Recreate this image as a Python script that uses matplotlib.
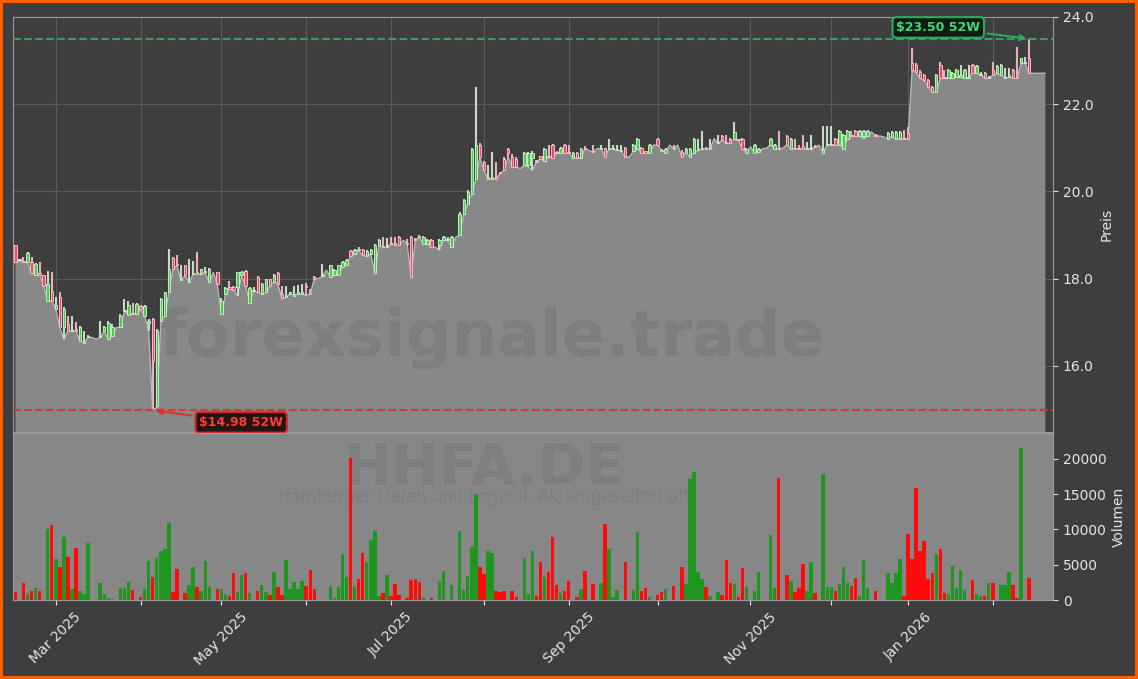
import numpy as np
import pandas as pd
import matplotlib
matplotlib.use("Agg")
import matplotlib.pyplot as plt
from matplotlib.ticker import FixedLocator, FormatStrFormatter

ticker = "HHFA.DE"
company = "Hamburger Hafen und Logistik Aktiengesellschaft"
site = "forexsignale.trade"

# Xetra trading days, Feb 2025 - Feb 2026
holidays = ["2025-04-18", "2025-04-21", "2025-05-01", "2025-12-24",
            "2025-12-25", "2025-12-26", "2025-12-31", "2026-01-01"]
dates = pd.bdate_range("2025-02-17", "2026-02-19")
dates = dates[~dates.isin(pd.to_datetime(holidays))]

open_ = [
    18.76, 18.42, 18.40, 18.37, 18.37, 18.09, 18.12, 18.09, 17.49, 17.72,
    17.30, 17.57, 16.88, 16.96, 16.80, 16.85, 16.57, 16.53, 16.65, 16.65,
    16.61, 16.65, 16.80, 16.61, 16.69, 16.88, 16.88, 17.26, 17.17, 17.22,
    17.18, 17.38, 17.15, 16.98, 17.07, 15.08, 17.03, 17.15, 17.68, 18.47,
    18.33, 17.97, 18.30, 17.91, 18.10, 18.14, 18.10, 18.14, 17.91, 18.14,
    18.14, 17.18, 17.64, 17.80, 17.80, 17.80, 18.07, 18.18, 17.45, 17.72,
    18.03, 17.64, 17.68, 17.99, 17.92, 18.12, 17.65, 17.57, 17.65, 17.61,
    17.65, 17.65, 17.84, 17.70, 18.03, 18.00, 18.05, 18.19, 18.03, 18.09,
    18.07, 18.26, 18.32, 18.63, 18.57, 18.68, 18.65, 18.51, 18.57, 18.12,
    18.76, 18.75, 18.72, 18.82, 18.82, 18.95, 18.88, 18.82, 18.95, 18.90,
    18.97, 18.80, 18.80, 18.89, 18.72, 18.76, 18.88, 18.88, 18.72, 18.95,
    18.99, 19.49, 19.72, 19.95, 20.29, 21.07, 20.68, 20.29, 20.29, 20.33,
    20.43, 20.75, 20.98, 20.79, 20.75, 20.52, 20.60, 20.60, 20.77, 20.70,
    20.80, 20.69, 20.82, 21.07, 20.90, 20.89, 21.07, 20.90, 20.77, 20.89,
    20.77, 21.00, 20.94, 20.92, 20.98, 20.98, 20.99, 20.98, 20.96, 20.94,
    20.92, 20.99, 20.79, 20.92, 20.98, 20.99, 20.91, 20.89, 21.06, 21.20,
    20.95, 20.89, 21.06, 21.00, 21.06, 20.90, 20.89, 20.79, 20.89, 20.94,
    20.98, 21.00, 20.98, 21.21, 21.10, 21.27, 21.12, 21.20, 21.20, 21.19,
    21.20, 20.89, 21.02, 20.89, 20.90, 20.98, 20.99, 21.07, 20.98, 21.00,
    20.99, 21.27, 20.98, 21.00, 21.00, 21.05, 20.98, 20.98, 21.04, 21.06,
    20.89, 21.07, 21.07, 21.20, 21.07, 20.98, 21.21, 21.29, 21.38, 21.27,
    21.27, 21.27, 21.36, 21.30, 21.27, 21.25, 21.21, 21.25, 21.21, 21.21,
    21.23, 21.34, 22.94, 22.90, 22.74, 22.67, 22.55, 22.40, 22.28, 22.90,
    22.63, 22.59, 22.59, 22.63, 22.63, 22.59, 22.60, 22.90, 22.71, 22.67,
    22.72, 22.59, 22.78, 22.71, 22.67, 22.59, 22.63, 22.78, 22.61, 22.94,
    22.94, 23.05, 22.71, 22.71, 22.71, 22.71,
]
high = [
    18.78, 18.45, 18.49, 18.60, 18.49, 18.36, 18.37, 18.09, 18.18, 18.14,
    17.57, 17.68, 17.35, 17.15, 17.15, 17.00, 16.92, 16.80, 16.70, 16.65,
    16.61, 17.03, 16.92, 17.03, 16.96, 16.88, 17.18, 17.53, 17.49, 17.45,
    17.43, 17.40, 17.40, 17.07, 17.10, 16.85, 17.55, 17.70, 18.68, 18.50,
    18.55, 18.30, 18.30, 18.45, 18.41, 18.60, 18.22, 18.26, 18.24, 18.14,
    18.16, 17.55, 17.80, 17.95, 17.82, 18.16, 18.18, 18.20, 17.80, 17.80,
    18.05, 17.90, 18.00, 18.00, 18.10, 18.14, 17.84, 17.84, 17.70, 17.84,
    17.86, 17.88, 17.89, 17.75, 18.05, 18.00, 18.34, 18.19, 18.32, 18.22,
    18.32, 18.40, 18.45, 18.66, 18.67, 18.72, 18.68, 18.65, 18.67, 18.80,
    18.91, 18.95, 18.94, 18.95, 18.95, 18.97, 18.88, 18.91, 18.97, 18.92,
    18.99, 18.97, 18.90, 18.91, 18.72, 18.91, 18.97, 18.95, 18.97, 18.95,
    19.52, 19.83, 20.02, 21.00, 22.40, 21.10, 20.70, 20.60, 20.90, 20.68,
    20.45, 20.78, 21.00, 20.85, 20.78, 20.52, 20.90, 20.90, 20.92, 20.72,
    20.82, 21.00, 21.06, 21.09, 20.92, 21.01, 21.09, 21.06, 20.91, 20.91,
    21.00, 21.05, 20.94, 21.06, 20.98, 21.06, 21.00, 21.20, 21.07, 21.06,
    21.07, 21.01, 20.79, 21.09, 21.22, 21.01, 20.93, 21.09, 21.06, 21.22,
    20.97, 21.00, 21.06, 21.06, 21.06, 20.95, 21.00, 21.00, 21.22, 21.21,
    21.38, 21.02, 21.21, 21.21, 21.29, 21.29, 21.29, 21.22, 21.58, 21.21,
    21.22, 21.00, 21.02, 21.09, 21.00, 20.98, 20.99, 21.22, 21.09, 21.38,
    20.99, 21.29, 21.22, 21.21, 21.07, 21.29, 21.13, 21.29, 21.06, 21.06,
    21.50, 21.50, 21.50, 21.22, 21.40, 21.31, 21.40, 21.38, 21.40, 21.40,
    21.40, 21.40, 21.36, 21.32, 21.27, 21.25, 21.36, 21.38, 21.38, 21.38,
    21.40, 21.48, 23.28, 22.95, 22.78, 22.70, 22.58, 22.42, 22.70, 22.97,
    22.78, 22.80, 22.74, 22.80, 22.90, 22.80, 22.90, 22.92, 22.89, 22.73,
    22.74, 22.65, 22.97, 22.89, 22.92, 22.82, 22.82, 22.80, 23.32, 23.07,
    23.09, 23.50, 22.71, 22.71, 22.71, 22.71,
]
low = [
    18.37, 18.40, 18.37, 18.37, 18.12, 18.09, 18.09, 17.84, 17.49, 17.49,
    17.30, 16.88, 16.61, 16.80, 16.80, 16.80, 16.57, 16.53, 16.65, 16.65,
    16.61, 16.65, 16.80, 16.61, 16.69, 16.88, 16.88, 17.26, 17.17, 17.18,
    17.18, 17.30, 17.15, 16.80, 14.98, 15.05, 17.03, 17.15, 17.68, 18.22,
    18.30, 17.95, 18.07, 17.91, 18.10, 18.10, 18.10, 18.14, 17.91, 18.14,
    17.87, 17.18, 17.64, 17.76, 17.74, 17.61, 18.07, 17.84, 17.45, 17.72,
    17.68, 17.64, 17.68, 17.84, 17.92, 17.88, 17.53, 17.57, 17.65, 17.61,
    17.65, 17.65, 17.61, 17.65, 18.00, 18.00, 18.05, 18.19, 18.03, 18.09,
    18.07, 18.26, 18.32, 18.51, 18.57, 18.65, 18.53, 18.51, 18.57, 18.12,
    18.76, 18.72, 18.72, 18.80, 18.78, 18.76, 18.88, 18.80, 18.03, 18.88,
    18.95, 18.80, 18.80, 18.72, 18.72, 18.65, 18.88, 18.88, 18.72, 18.95,
    18.99, 19.49, 19.72, 19.95, 20.29, 20.78, 20.48, 20.29, 20.29, 20.29,
    20.41, 20.48, 20.79, 20.56, 20.56, 20.52, 20.60, 20.56, 20.48, 20.68,
    20.75, 20.69, 20.79, 20.77, 20.87, 20.89, 20.89, 20.88, 20.77, 20.77,
    20.77, 20.98, 20.94, 20.90, 20.98, 20.98, 20.79, 20.98, 20.96, 20.94,
    20.92, 20.79, 20.79, 20.92, 20.98, 20.89, 20.89, 20.89, 21.06, 21.07,
    20.92, 20.89, 21.06, 20.98, 21.06, 20.79, 20.89, 20.79, 20.89, 20.94,
    20.98, 20.98, 20.98, 21.21, 21.10, 21.17, 21.10, 21.10, 21.20, 21.17,
    20.98, 20.89, 21.02, 20.89, 20.90, 20.98, 20.99, 21.07, 20.98, 20.98,
    20.99, 21.07, 20.98, 20.98, 20.98, 20.98, 20.98, 20.98, 21.02, 21.06,
    20.89, 21.07, 21.07, 21.07, 21.07, 20.98, 21.21, 21.27, 21.27, 21.27,
    21.21, 21.27, 21.36, 21.27, 21.27, 21.25, 21.21, 21.25, 21.21, 21.21,
    21.21, 21.21, 22.78, 22.74, 22.59, 22.55, 22.40, 22.28, 22.28, 22.59,
    22.59, 22.59, 22.59, 22.63, 22.63, 22.59, 22.60, 22.71, 22.71, 22.67,
    22.59, 22.59, 22.67, 22.71, 22.67, 22.59, 22.63, 22.59, 22.59, 22.94,
    22.94, 22.71, 22.71, 22.71, 22.71, 22.71,
]
close = [
    18.37, 18.42, 18.37, 18.58, 18.12, 18.33, 18.09, 17.84, 17.87, 17.49,
    17.40, 16.88, 17.30, 16.80, 16.83, 16.80, 16.88, 16.56, 16.69, 16.65,
    16.61, 16.68, 16.88, 16.97, 16.88, 16.88, 17.15, 17.28, 17.40, 17.18,
    17.41, 17.30, 17.38, 17.03, 16.11, 16.80, 17.53, 17.68, 18.22, 18.22,
    18.30, 17.97, 18.07, 17.95, 18.12, 18.10, 18.22, 18.18, 18.22, 18.14,
    17.87, 17.49, 17.78, 17.76, 17.74, 18.14, 18.14, 17.84, 17.78, 17.74,
    17.68, 17.87, 17.99, 17.84, 18.07, 17.88, 17.55, 17.60, 17.68, 17.64,
    17.68, 17.70, 17.80, 17.65, 18.00, 18.00, 18.05, 18.19, 18.30, 18.19,
    18.30, 18.38, 18.43, 18.51, 18.65, 18.65, 18.53, 18.63, 18.65, 18.78,
    18.89, 18.72, 18.75, 18.80, 18.78, 18.76, 18.88, 18.80, 18.03, 18.88,
    18.95, 18.95, 18.89, 18.72, 18.72, 18.89, 18.95, 18.88, 18.95, 18.95,
    19.49, 19.80, 19.99, 20.98, 21.06, 20.78, 20.48, 20.33, 20.33, 20.29,
    20.41, 20.48, 20.87, 20.56, 20.56, 20.52, 20.88, 20.88, 20.89, 20.68,
    20.75, 20.98, 20.79, 20.77, 20.87, 20.99, 20.89, 20.88, 20.89, 20.77,
    20.98, 20.98, 20.94, 20.90, 20.98, 21.00, 20.79, 21.00, 20.98, 20.96,
    20.92, 20.79, 20.79, 21.07, 21.20, 20.89, 20.89, 21.07, 21.06, 21.07,
    20.92, 20.98, 21.06, 20.98, 21.06, 20.79, 20.98, 20.98, 21.20, 20.98,
    21.00, 20.98, 21.02, 21.21, 21.12, 21.17, 21.10, 21.10, 21.36, 21.17,
    20.98, 20.98, 21.02, 21.07, 20.98, 20.98, 20.99, 21.20, 21.07, 20.98,
    20.99, 21.07, 21.20, 20.98, 20.98, 20.98, 21.00, 21.00, 21.02, 21.06,
    20.95, 21.09, 21.09, 21.07, 21.38, 21.29, 21.38, 21.27, 21.27, 21.38,
    21.38, 21.38, 21.36, 21.27, 21.27, 21.25, 21.34, 21.36, 21.36, 21.36,
    21.21, 21.21, 22.78, 22.74, 22.59, 22.55, 22.40, 22.28, 22.67, 22.59,
    22.59, 22.78, 22.72, 22.78, 22.66, 22.78, 22.61, 22.71, 22.87, 22.70,
    22.59, 22.62, 22.67, 22.87, 22.90, 22.62, 22.66, 22.59, 22.59, 23.05,
    22.97, 22.71, 22.71, 22.71, 22.71, 22.71,
]
volume = [
    1100, 0, 2360, 850, 1230, 1650, 1230, 0, 10070, 10590,
    5770, 4730, 8940, 6100, 1510, 7380, 1230, 850, 8040, 0,
    0, 2360, 850, 330, 190, 0, 1650, 1650, 2500, 1420,
    0, 380, 1510, 5530, 3260, 5960, 6950, 7230, 10920, 1090,
    4400, 0, 990, 2130, 4680, 1840, 1230, 5530, 1840, 0,
    1560, 1560, 850, 570, 3780, 1130, 3550, 3780, 990, 0,
    1280, 2130, 1130, 710, 3920, 1840, 710, 5670, 1510, 2500,
    1510, 2690, 1990, 4260, 1560, 0, 0, 0, 1990, 240,
    1840, 6520, 3260, 20140, 1990, 2980, 6670, 5390, 8510, 9790,
    570, 990, 3550, 570, 2270, 710, 0, 240, 2840, 2930,
    2600, 240, 0, 240, 0, 2700, 4110, 0, 2130, 0,
    9790, 1420, 3400, 7520, 14990, 4680, 3690, 6900, 6620, 1280,
    1130, 1280, 0, 1280, 380, 0, 5960, 850, 6950, 570,
    5390, 3260, 3970, 8940, 2130, 990, 1280, 2700, 0, 430,
    1560, 4110, 0, 2270, 0, 2410, 10780, 7230, 430, 1420,
    0, 5390, 0, 1420, 9650, 1280, 1700, 430, 0, 710,
    1130, 1560, 0, 1990, 0, 4680, 2270, 17160, 18160, 3970,
    2980, 1840, 570, 0, 1130, 710, 5670, 2410, 2270, 430,
    4540, 1840, 0, 1280, 3970, 0, 0, 9220, 1700, 17300,
    0, 3550, 2700, 1130, 1700, 5110, 1280, 5390, 990, 0,
    17870, 1840, 1840, 1280, 2270, 4680, 2410, 1990, 3120, 570,
    5670, 1700, 0, 1280, 0, 0, 3830, 2410, 3830, 5810,
    570, 9360, 5810, 15890, 6950, 8370, 2980, 3830, 6520, 7230,
    990, 850, 4820, 1700, 4260, 1420, 0, 2840, 850, 570,
    570, 2410, 2410, 0, 2130, 2130, 3970, 2130, 280, 21560,
    0, 3120, 0, 0, 0, 0,
]

high_52w = 23.50
low_52w = 14.98

BG = "#3e3e3e"
TXT = "#e6e6e6"

o = np.array(open_)
h = np.array(high)
l = np.array(low)
c = np.array(close)
v = np.array(volume)
x = np.arange(len(dates))
up = c >= o

fig = plt.figure(figsize=(11.38, 6.79), dpi=100, facecolor=BG,
                 edgecolor="#ff5e00", linewidth=4)
ax = fig.add_axes([0.0114, 0.3638, 0.9139, 0.6112], facecolor=BG)
axv = fig.add_axes([0.0114, 0.1163, 0.9139, 0.2459], facecolor="#878787", sharex=ax)

# price area + candles
ax.fill_between(x, l, 0, color="#888888", lw=0, zorder=2)
ax.plot(x, l, color="#bdbdbd", lw=0.9, zorder=2.5)

m = h > l
wick_col = np.where(up, "#c6dac6", "#e4b2ba")
ax.vlines(x[m], l[m], h[m], colors=wick_col[m], lw=1.5, zorder=3)
body_lo = np.minimum(o, c)
body_h = np.maximum(np.abs(c - o), 0.025)
ax.bar(x[m], body_h[m], bottom=body_lo[m], width=0.6,
       color=np.where(up, "#55c455", "#e0506c")[m],
       edgecolor=np.where(up, "#bfeebf", "#ffb8c4")[m], lw=0.7, zorder=4)

ax.axhline(high_52w, color="#2ea35a", ls="--", lw=1.5, zorder=3.5)
ax.axhline(low_52w, color="#d03a3a", ls="--", lw=1.5, zorder=3.5)

i_hi = int(np.argmax(h))
i_lo = int(np.argmin(l))
ax.annotate(r"\$%.2f 52W" % high_52w, xy=(i_hi, high_52w), xytext=(228.5, 23.76),
            ha="center", va="center", color="#3ddc7a", fontsize=9, fontweight="bold",
            bbox=dict(boxstyle="round,pad=0.3", fc="#0f1a13", ec="#27ae60", lw=1.5),
            arrowprops=dict(arrowstyle="->", color="#27ae60", lw=1.5), zorder=6)
ax.annotate(r"\$%.2f 52W" % low_52w, xy=(i_lo, low_52w), xytext=(55.9, 14.70),
            ha="center", va="center", color="#ff3b3b", fontsize=9, fontweight="bold",
            bbox=dict(boxstyle="round,pad=0.3", fc="#261313", ec="#d42a2a", lw=1.5),
            arrowprops=dict(arrowstyle="->", color="#e03030", lw=1.5), zorder=6)

ax.text(0.4606, 0.185, site, transform=ax.transAxes, ha="center", va="baseline",
        fontsize=46, fontweight="bold", color="black", alpha=0.065, zorder=2.7)

ax.set_ylim(14.48, 24.0)
ax.set_xlim(-0.6, 256.9)
ax.yaxis.tick_right()
ax.yaxis.set_label_position("right")
ax.yaxis.set_major_locator(FixedLocator([16, 18, 20, 22, 24]))
ax.yaxis.set_major_formatter(FormatStrFormatter("%.1f"))
ax.set_ylabel("Preis", color=TXT, fontsize=10)
ax.grid(True, color="#5c5c5c", lw=0.8)
ax.set_axisbelow(True)
ax.tick_params(axis="x", labelbottom=False, colors=TXT)
ax.tick_params(axis="y", colors=TXT, labelsize=10)

# volume
vol_col = np.where(up, "#1f961f", "#ff0a0a")
axv.bar(x, v, width=0.85, color=vol_col, lw=0, zorder=3)
axv.set_ylim(0, 23650)
axv.yaxis.tick_right()
axv.yaxis.set_label_position("right")
axv.yaxis.set_major_locator(FixedLocator([0, 5000, 10000, 15000, 20000]))
axv.set_ylabel("Volumen", color=TXT, fontsize=10)
axv.tick_params(axis="y", colors=TXT, labelsize=10)
axv.text(0.453, 0.69, ticker, transform=axv.transAxes, ha="center", va="baseline",
         fontsize=41, fontweight="bold", color="black", alpha=0.06, zorder=1)
axv.text(0.453, 0.585, company, transform=axv.transAxes, ha="center", va="baseline",
         fontsize=12, color="black", alpha=0.06, zorder=1)

# monthly ticks, label every other month
starts = [i for i in range(1, len(dates)) if dates[i].month != dates[i - 1].month]
labels = [dates[i].strftime("%b %Y") if dates[i].month % 2 == 1 else "" for i in starts]
axv.set_xticks(starts)
axv.set_xticklabels(labels, rotation=45, ha="center")
axv.tick_params(axis="x", colors=TXT, labelsize=10)

for a in (ax, axv):
    for s in a.spines.values():
        s.set_color("#9a9a9a")

fig.savefig("out.png", facecolor=fig.get_facecolor(), edgecolor=fig.get_edgecolor())
